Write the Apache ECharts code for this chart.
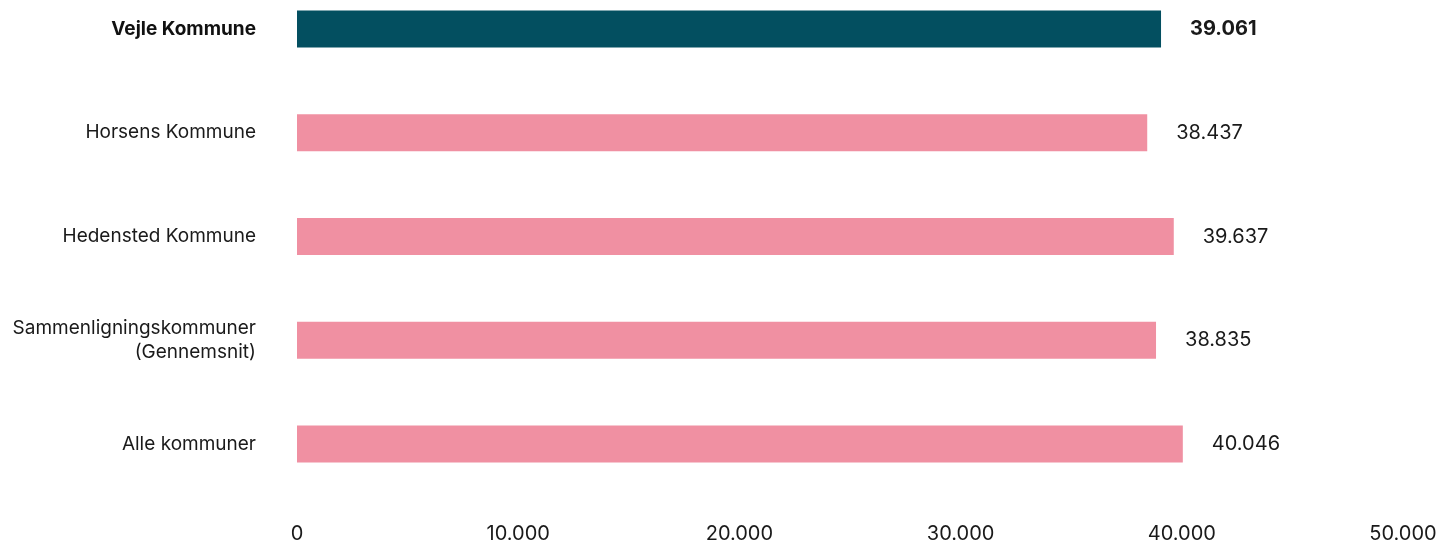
<!DOCTYPE html>
<html>
<head>
<meta charset="utf-8">
<script src="https://cdn.jsdelivr.net/npm/echarts@6/dist/echarts.min.js"></script>
<style>
  html, body { margin: 0; padding: 0; background: #fff; }
  #main { width: 1439px; height: 543px; }
</style>
</head>
<body>
<div id="main"></div>
<script>
// data
var categories = ['Vejle Kommune', 'Horsens Kommune', 'Hedensted Kommune', 'Sammenligningskommuner\n(Gennemsnit)', 'Alle kommuner'];
var values = [39061, 38437, 39637, 38835, 40046];
var highlight = 'Vejle Kommune';

var FONT = 'Inter';

function fmt(v) {
	// danish thousands separator
	return String(v).replace(/\B(?=(\d{3})+(?!\d))/g, '.');
}

var chart = echarts.init(document.getElementById('main'));
chart.setOption({
	animation: false,
	grid: {
		left: 297,
		right: 36,
		top: 29,
		bottom: 99,
		outerBoundsMode: 'none'
	},
	xAxis: {
		type: 'value',
		min: 0,
		max: 50000,
		interval: 10000,
		splitLine: { show: false },
		axisLine: { show: false },
		axisTick: { show: false },
		axisLabel: {
			margin: 80,
			fontFamily: FONT,
			fontSize: 20,
			color: '#1a1a1a',
			formatter: fmt
		}
	},
	yAxis: {
		type: 'category',
		inverse: true,
		boundaryGap: false,
		data: categories,
		axisLine: { show: false },
		axisTick: { show: false },
		axisLabel: {
			margin: 41,
			fontFamily: FONT,
			fontSize: 19,
			lineHeight: 24,
			color: '#1a1a1a',
			formatter: function (v) {
				return v === highlight ? '{b|' + v + '}' : v;
			},
			rich: {
				b: { fontFamily: FONT, fontSize: 19, fontWeight: 'bold', color: '#111' }
			}
		}
	},
	series: [{
		type: 'bar',
		barWidth: 37,
		data: values.map(function (v, i) {
			var isHi = categories[i] === highlight;
			return {
				value: v,
				itemStyle: { color: isHi ? '#034f60' : '#f090a2' },
				label: { fontWeight: isHi ? 'bold' : 'normal' }
			};
		}),
		label: {
			show: true,
			position: 'right',
			distance: 29,
			fontFamily: FONT,
			fontSize: 20,
			color: '#1a1a1a',
			formatter: function (p) { return fmt(p.value); }
		}
	}]
});
</script>
</body>
</html>
